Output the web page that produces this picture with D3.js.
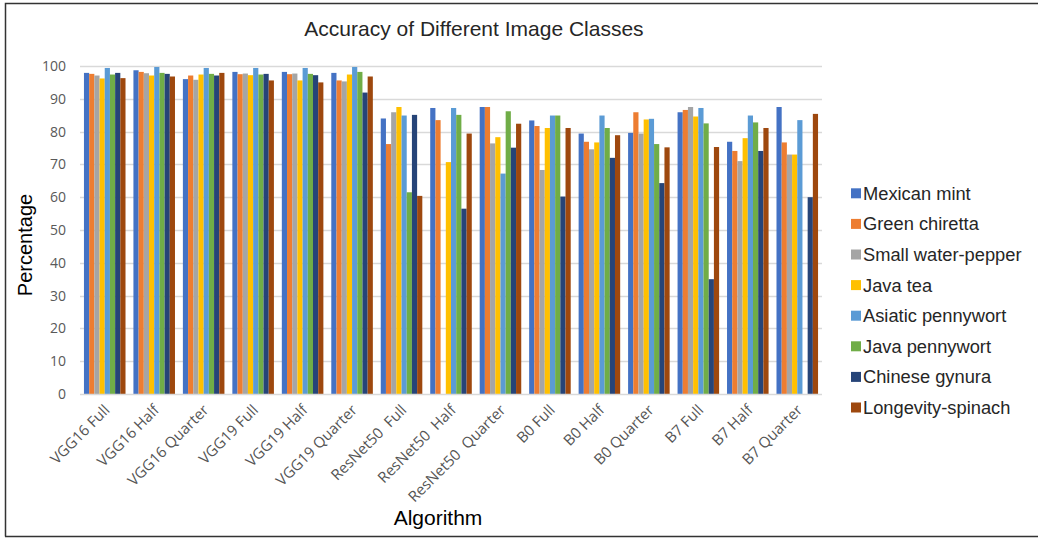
<!DOCTYPE html>
<html>
<head>
<meta charset="utf-8">
<script src="https://cdn.jsdelivr.net/npm/d3@7"></script>
<style>
  html, body { margin: 0; padding: 0; background: #fff; }
  svg { display: block; }
</style>
</head>
<body>
<svg id="chart" width="1038" height="539"></svg>
<script>
// Model / quantization variants on the x axis
const algorithms = [
  "VGG16 Full", "VGG16 Half", "VGG16 Quarter",
  "VGG19 Full", "VGG19 Half", "VGG19 Quarter",
  "ResNet50  Full", "ResNet50  Half", "ResNet50  Quarter",
  "B0 Full", "B0 Half", "B0 Quarter",
  "B7 Full", "B7 Half", "B7 Quarter"
];

// Plant classes (one bar per class in each group)
const classes = [
  "Mexican mint", "Green chiretta", "Small water-pepper", "Java tea",
  "Asiatic pennywort", "Java pennywort", "Chinese gynura", "Longevity-spinach"
];

// Accuracy (%) per class, in the order of `algorithms`; null = no bar
const mexicanMint      = [97.9, 98.7, 96.0, 98.2, 98.2, 97.9, 84.0, 87.2, 87.5, 83.4, 79.4, 79.6, 85.9, 76.9, 87.5];
const greenChiretta    = [97.6, 98.2, 97.1, 97.5, 97.5, 95.6, 76.2, 83.5, 87.5, 81.7, 76.9, 85.9, 86.6, 74.1, 76.7];
const smallWaterPepper = [97.1, 97.8, 95.8, 97.7, 97.7, 95.3, 85.9, null, 76.4, 68.3, 74.6, 79.4, 87.5, 71.0, 73.0];
const javaTea          = [96.2, 97.1, 97.4, 97.2, 95.6, 97.4, 87.5, 70.7, 78.3, 81.1, 76.7, 83.7, 84.6, 78.0, 73.0];
const asiaticPennywort = [99.4, 99.7, 99.4, 99.4, 99.4, 99.7, 84.9, 87.2, 67.2, 84.9, 84.9, 83.9, 87.2, 84.9, 83.5];
const javaPennywort    = [97.4, 97.9, 97.6, 97.4, 97.6, 98.2, 61.5, 85.1, 86.2, 84.9, 81.1, 76.2, 82.5, 82.8, null];
const chineseGynura    = [97.9, 97.6, 97.1, 97.6, 97.2, 91.9, 85.1, 56.5, 75.1, 60.2, 72.0, 64.3, 35.0, 74.1, 60.0];
const longevitySpinach = [96.3, 96.8, 97.9, 95.6, 95.0, 96.8, 60.4, 79.4, 82.4, 81.1, 78.9, 75.2, 75.3, 81.1, 85.4];

const seriesValues = [
  mexicanMint, greenChiretta, smallWaterPepper, javaTea,
  asiaticPennywort, javaPennywort, chineseGynura, longevitySpinach
];

const colors = ["#4472C4", "#ED7D31", "#A5A5A5", "#FFC000", "#5B9BD5", "#70AD47", "#264478", "#9E480E"];

const yTicks = [0, 10, 20, 30, 40, 50, 60, 70, 80, 90, 100];

const svg = d3.select("#chart");
const W = 1038, H = 539;
const plot = { left: 80, right: 822, top: 66, bottom: 394 };

// Frame around the whole chart
svg.append("path")
  .attr("d", `M5.5,${H - 2.5} L5.5,3.5 L${W},3.5`)
  .attr("fill", "none").attr("stroke", "#333").attr("stroke-width", 1.5);
svg.append("line")
  .attr("x1", 5).attr("x2", W).attr("y1", H - 2.5).attr("y2", H - 2.5)
  .attr("stroke", "#333").attr("stroke-width", 1.5);

const x0 = d3.scaleBand()
  .domain(algorithms)
  .range([plot.left, plot.right])
  .paddingInner(0.16)
  .paddingOuter(0.08);

const x1 = d3.scaleBand()
  .domain(classes)
  .range([0, x0.bandwidth()]);

const y = d3.scaleLinear()
  .domain([0, 100])
  .range([plot.bottom, plot.top]);

// Horizontal gridlines
svg.append("g")
  .selectAll("line")
  .data(yTicks.filter(t => t > 0))
  .join("line")
  .attr("x1", plot.left).attr("x2", plot.right)
  .attr("y1", d => Math.round(y(d)) + 0.5).attr("y2", d => Math.round(y(d)) + 0.5)
  .attr("stroke", "#d9d9d9").attr("stroke-width", 1.3);

// Y axis tick labels
const yAxis = d3.axisLeft(y).tickValues(yTicks).tickSize(0).tickPadding(0);
const yg = svg.append("g")
  .attr("transform", `translate(${plot.left - 14},0)`)
  .call(yAxis);
yg.select(".domain").remove();
yg.selectAll("text")
  .attr("font-family", "'Open Sans', sans-serif")
  .attr("font-size", 14)
  .attr("fill", "#595959");

// Bars
const groups = svg.append("g")
  .selectAll("g")
  .data(algorithms)
  .join("g")
  .attr("transform", d => `translate(${x0(d)},0)`);

groups.selectAll("rect")
  .data((d, i) => classes.map((c, k) => ({ cls: c, value: seriesValues[k][i], color: colors[k] }))
    .filter(e => e.value !== null))
  .join("rect")
  .attr("x", d => x1(d.cls))
  .attr("width", x1.bandwidth())
  .attr("y", d => y(d.value))
  .attr("height", d => y(0) - y(d.value))
  .attr("fill", d => d.color);

// X axis baseline
svg.append("line")
  .attr("x1", plot.left).attr("x2", plot.right)
  .attr("y1", plot.bottom + 0.5).attr("y2", plot.bottom + 0.5)
  .attr("stroke", "#d9d9d9").attr("stroke-width", 1.3);

// X axis category labels, rotated
const xAxis = d3.axisBottom(x0).tickSize(0).tickPadding(0);
const xg = svg.append("g")
  .attr("transform", `translate(0,${plot.bottom})`)
  .call(xAxis);
xg.select(".domain").remove();
xg.selectAll("text")
  .attr("font-family", "'Open Sans', sans-serif")
  .attr("font-size", 15)
  .attr("fill", "#555")
  .attr("text-anchor", "end")
  .attr("dy", null)
  .attr("y", 0)
  .attr("transform", "translate(6,17) rotate(-45)")
  .style("white-space", "pre");

// Title
svg.append("text")
  .attr("x", 474).attr("y", 36)
  .attr("text-anchor", "middle")
  .attr("font-family", "'Liberation Sans', Arial, sans-serif")
  .attr("font-size", 21)
  .attr("fill", "#262626")
  .text("Accuracy of Different Image Classes");

// Axis titles
svg.append("text")
  .attr("transform", "translate(32,245) rotate(-90)")
  .attr("text-anchor", "middle")
  .attr("font-family", "'Liberation Sans', Arial, sans-serif")
  .attr("font-size", 20)
  .attr("fill", "#000")
  .text("Percentage");

svg.append("text")
  .attr("x", 438).attr("y", 525)
  .attr("text-anchor", "middle")
  .attr("font-family", "'Liberation Sans', Arial, sans-serif")
  .attr("font-size", 21)
  .attr("fill", "#000")
  .text("Algorithm");

// Legend
const legend = svg.append("g")
  .selectAll("g")
  .data(classes)
  .join("g")
  .attr("transform", (d, i) => `translate(851,${193.3 + i * 30.6})`);

legend.append("rect")
  .attr("x", 0).attr("y", -5)
  .attr("width", 10).attr("height", 10)
  .attr("fill", (d, i) => colors[i]);

legend.append("text")
  .attr("x", 12).attr("y", 6.5)
  .attr("font-family", "'Liberation Sans', Arial, sans-serif")
  .attr("font-size", 18.3)
  .attr("fill", "#262626")
  .text(d => d);
</script>
</body>
</html>
